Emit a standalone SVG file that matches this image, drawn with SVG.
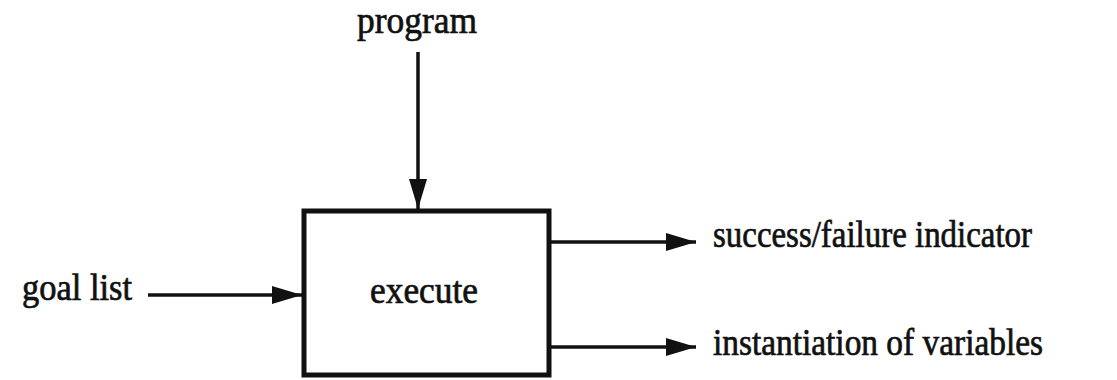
<svg xmlns="http://www.w3.org/2000/svg" width="1117" height="380" viewBox="0 0 1117 380">
<style>
.t{font-family:"Liberation Serif","Times New Roman",serif;font-size:37px;fill:#111;stroke:#111;stroke-width:0.7}
.c{stroke:#111;stroke-width:3.5;fill:none}
</style>
<defs>
<marker id="ah" markerUnits="userSpaceOnUse" markerWidth="32" markerHeight="20" refX="30" refY="9" orient="auto">
<path d="M0,0 L30,9 L0,18 Z" fill="#111"/>
</marker>
</defs>
<rect width="1117" height="380" fill="#fff"/>
<g id="execute">
<rect x="304" y="211" width="245" height="164" fill="none" stroke="#111" stroke-width="5"/>
<text class="t" x="370" y="303" textLength="108" lengthAdjust="spacingAndGlyphs">execute</text>
</g>
<g id="program">
<text class="t" x="357" y="33" textLength="120" lengthAdjust="spacingAndGlyphs">program</text>
</g>
<g id="goal">
<text class="t" x="22" y="300" textLength="110" lengthAdjust="spacingAndGlyphs">goal list</text>
</g>
<g id="success">
<text class="t" x="713" y="247" textLength="319" lengthAdjust="spacingAndGlyphs">success/failure indicator</text>
</g>
<g id="inst">
<text class="t" x="713" y="355" textLength="330" lengthAdjust="spacingAndGlyphs">instantiation of variables</text>
</g>
<g id="connectors">
<line class="c" x1="418" y1="52" x2="418" y2="209" marker-end="url(#ah)"/>
<line class="c" x1="148" y1="295" x2="302" y2="295" marker-end="url(#ah)"/>
<line class="c" x1="551" y1="242" x2="696" y2="242" marker-end="url(#ah)"/>
<line class="c" x1="551" y1="347" x2="696" y2="347" marker-end="url(#ah)"/>
</g>
</svg>
